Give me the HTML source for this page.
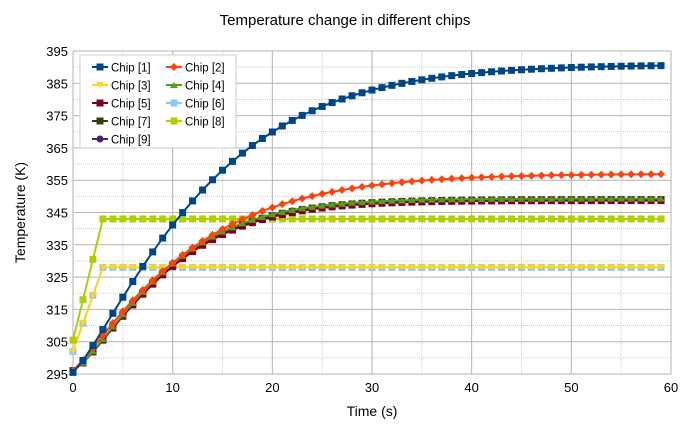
<!DOCTYPE html>
<html><head><meta charset="utf-8"><style>
body{margin:0;background:#fff;width:690px;height:431px;overflow:hidden;font-family:"Liberation Sans",sans-serif}
</style></head><body>
<svg id="s" width="690" height="431" xmlns="http://www.w3.org/2000/svg" font-family="Liberation Sans, sans-serif"></svg>
<script>
const s=document.getElementById('s');
const X0=73,X1=671,Y0=374,Y1=51;
const fx=t=>X0+(X1-X0)*t/60, fy=v=>Y0-(Y0-Y1)*(v-295)/100;
let h='<rect width="690" height="431" fill="#fff"/>';
h+='<text x="345" y="25" font-size="15" text-anchor="middle">Temperature change in different chips</text>';
for(let v=300;v<395;v+=10)h+=`<line x1="${X0}" x2="${X1}" y1="${fy(v)}" y2="${fy(v)}" stroke="#ccc" stroke-dasharray="1,1"/>`;
for(let t=5;t<60;t+=10)h+=`<line y1="${Y0}" y2="${Y1}" x1="${fx(t)}" x2="${fx(t)}" stroke="#ccc" stroke-dasharray="1,1"/>`;
for(let v=295;v<=395;v+=10){h+=`<line x1="${X0}" x2="${X1}" y1="${fy(v)}" y2="${fy(v)}" stroke="#b3b3b3"/>`;h+=`<text x="${X0-5}" y="${fy(v)+5}" font-size="13" text-anchor="end">${v}</text>`;}
for(let t=0;t<=60;t+=10){h+=`<line y1="${Y0}" y2="${Y1}" x1="${fx(t)}" x2="${fx(t)}" stroke="#b3b3b3"/>`;h+=`<text x="${fx(t)}" y="${Y0+18}" font-size="13" text-anchor="middle">${t}</text>`;}
h+=`<text x="${(X0+X1)/2}" y="416" font-size="14" text-anchor="middle">Time (s)</text>`;
h+=`<text transform="translate(25,${(Y0+Y1)/2}) rotate(-90)" font-size="14" text-anchor="middle">Temperature (K)</text>`;
function mk(x,y,c,m){
 if(m=='sq')return `<rect x="${x-3.5}" y="${y-3.5}" width="7" height="7" fill="${c}"/>`;
 if(m=='di')return `<polygon points="${x},${y-4} ${x+4},${y} ${x},${y+4} ${x-4},${y}" fill="${c}"/>`;
 if(m=='dn')return `<polygon points="${x-4},${y-3} ${x+4},${y-3} ${x},${y+3}" fill="${c}"/>`;
 if(m=='up')return `<polygon points="${x-4},${y+3} ${x+4},${y+3} ${x},${y-3}" fill="${c}"/>`;
 if(m=='ci')return `<circle cx="${x}" cy="${y}" r="3.5" fill="${c}"/>`;
 return `<rect x="${x-3}" y="${y-3}" width="6" height="6" fill="${c}"/>`;
}
function ser(f,c,m){let p=[];for(let t=0;t<60;t++)p.push([fx(t),fy(f(t))]);
 let r=`<polyline points="${p.map(q=>q.join(',')).join(' ')}" fill="none" stroke="${c}" stroke-width="2"/>`;
 p.forEach(q=>r+=mk(q[0],q[1],c,m));return r;}
const wb=(a,b,lam,p)=>t=>b-(b-a)*Math.exp(-Math.pow(t/lam,p));
const step=(a,b)=>t=>t>=3?b:a+(b-a)*t/3;
h+=ser(step(302,328),'#83caff','sq');
h+=ser(step(302,328),'#ffd320','dn');
h+=ser(step(305.5,343),'#aecf00','sq');
h+=ser(wb(296,349,10.3,1.3),'#4b1f6f','ci');
h+=ser(wb(296,349,10.3,1.3),'#314004','sq');
h+=ser(wb(296,348.7,10.4,1.3),'#7e0021','sq');
h+=ser(wb(296,349.3,10.2,1.3),'#579d1c','up');
h+=ser(wb(296,357,12.2,1.15),'#ff420e','di');
h+=ser(wb(295.5,390.8,14.2,1.22),'#004586','sq');
// legend
h+='<rect x="80" y="55" width="156" height="93" fill="#fff" stroke="#ccc"/>';
const L=[['Chip [1]','#004586','sq'],['Chip [2]','#ff420e','di'],['Chip [3]','#ffd320','dn'],['Chip [4]','#579d1c','up'],['Chip [5]','#7e0021','sq'],['Chip [6]','#83caff','sq'],['Chip [7]','#314004','sq'],['Chip [8]','#aecf00','sq'],['Chip [9]','#4b1f6f','ci']];
L.forEach((l,i)=>{const x=92+(i%2)*74,y=67+Math.floor(i/2)*18;
 h+=`<line x1="${x}" x2="${x+16}" y1="${y}" y2="${y}" stroke="${l[1]}" stroke-width="2"/>`+mk(x+8,y,l[1],l[2]);
 h+=`<text x="${x+19}" y="${y+4.5}" font-size="11.5">${l[0]}</text>`;});
s.innerHTML=h;
</script>
</body></html>
